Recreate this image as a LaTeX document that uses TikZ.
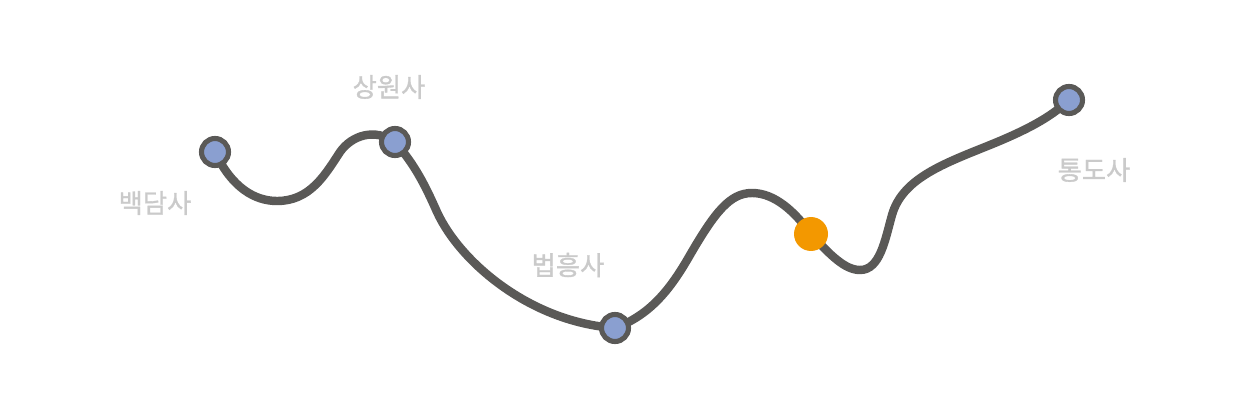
\documentclass[tikz,border=0pt]{standalone}
\usepackage{fontspec}
\newfontfamily\kr[FakeBold=1.2]{Noto Sans CJK KR}
\definecolor{trail}{HTML}{5A5957}
\definecolor{stopblue}{HTML}{8A9FD0}
\definecolor{hereorange}{HTML}{F39800}
\definecolor{labelgray}{HTML}{CACACA}
\tikzset{
  stop/.style={circle, fill=stopblue, draw=trail, line width=2.9pt, minimum size=0.54cm, inner sep=0pt},
  here/.style={circle, fill=hereorange, minimum size=0.68cm, inner sep=0pt},
  route/.style={draw=trail, line width=4.8pt, line cap=round},
  place/.style={text=labelgray, font=\kr\fontsize{15pt}{17pt}\selectfont, inner sep=0pt}
}
\begin{document}
\begin{tikzpicture}[x=0.02cm,y=-0.02cm]
\useasboundingbox (0,0) rectangle (1250,415);
\coordinate (p1) at (215,152);
\coordinate (p2) at (395,142);
\coordinate (p3) at (615,328);
\coordinate (p4) at (811,234);
\coordinate (p5) at (1069,100);
\coordinate (m1) at (277,201);
\coordinate (m2) at (340,152);
\coordinate (m3) at (437,212);
\coordinate (m4) at (690,255);
\coordinate (m5) at (752,193);
\coordinate (m6) at (860,270);
\coordinate (m7) at (892,215);
\coordinate (m8) at (985,147);
\path[route] (p1) .. controls (232,188) and (255,201) .. (m1)
  .. controls (310,201) and (325,175) .. (m2)
  .. controls (352,135) and (375,128) .. (p2)
  .. controls (415,165) and (425,185) .. (m3)
  .. controls (460,262) and (530,322) .. (p3)
  .. controls (650,315) and (670,290) .. (m4)
  .. controls (715,212) and (730,193) .. (m5)
  .. controls (775,193) and (795,212) .. (p4)
  .. controls (830,255) and (845,270) .. (m6)
  .. controls (880,270) and (885,240) .. (m7)
  .. controls (902,180) and (940,165) .. (m8)
  .. controls (1025,131) and (1050,118) .. (p5);
\node[stop] (s1) at (p1) {};
\node[stop] (s2) at (p2) {};
\node[stop] (s3) at (p3) {};
\node[here] (s4) at (p4) {};
\node[stop] (s5) at (p5) {};
\node[place] (l1) at (155,203) {백담사};
\node[place] (l2) at (389,87) {상원사};
\node[place] (l3) at (568,265) {법흥사};
\node[place] (l5) at (1094,170) {통도사};
\end{tikzpicture}
\end{document}
